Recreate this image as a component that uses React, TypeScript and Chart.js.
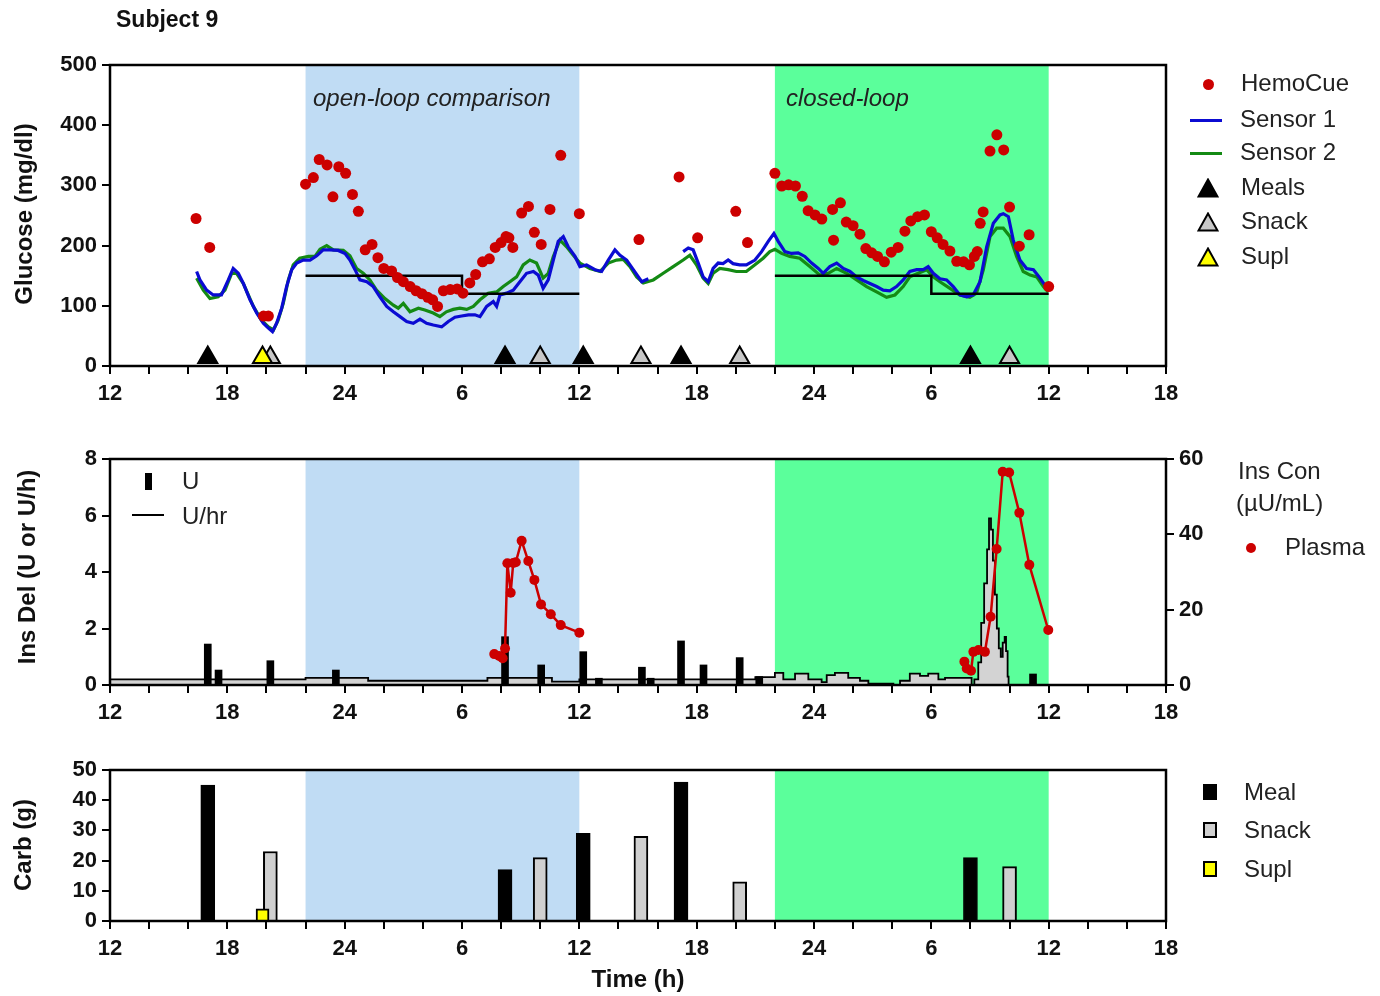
import React, { useEffect, useRef } from 'react';
import { Chart, registerables } from 'chart.js';

Chart.register(...registerables);

// ---------------- DATA ----------------
const xTickStart = 12;
const xTickEnd = 66;
const openLoopBand = [22, 36];
const closedLoopBand = [46, 60];

const hemoTime = [16.4, 17.1, 19.85, 20.1, 22.0, 22.4, 22.7, 23.1, 23.4, 23.7, 24.05, 24.4, 24.7, 25.05, 25.4, 25.7, 26.0, 26.4, 26.7, 27.0, 27.35, 27.65, 27.95, 28.25, 28.5, 28.75, 29.05, 29.4, 29.75, 30.05, 30.4, 30.7, 31.05, 31.4, 31.7, 32.0, 32.25, 32.4, 32.6, 33.05, 33.4, 33.7, 34.05, 34.5, 35.05, 36.0, 39.05, 41.1, 42.05, 44.0, 44.6, 46.0, 46.35, 46.7, 47.05, 47.4, 47.7, 48.05, 48.4, 48.95, 49.0, 49.35, 49.65, 50.0, 50.35, 50.65, 50.95, 51.25, 51.6, 51.95, 52.3, 52.65, 52.95, 53.3, 53.65, 54.0, 54.3, 54.6, 54.95, 55.3, 55.65, 55.95, 56.2, 56.35, 56.5, 56.65, 57.0, 57.35, 57.7, 58.0, 58.5, 59.0, 60.0];
const hemoGlucose = [245, 197, 83, 83, 302, 313, 343, 334, 281, 331, 320, 285, 257, 193, 202, 180, 162, 158, 147, 140, 132, 125, 120, 114, 110, 99, 125, 127, 128, 121, 138, 152, 173, 178, 197, 205, 215, 213, 197, 254, 265, 222, 202, 260, 350, 253, 210, 314, 213, 257, 205, 320, 299, 301, 299, 282, 258, 251, 244, 260, 209, 271, 239, 233, 219, 195, 188, 182, 173, 189, 197, 224, 241, 248, 251, 223, 213, 202, 191, 174, 173, 168, 182, 190, 237, 256, 357, 384, 359, 264, 199, 218, 132];

const sensor1Time = [16.43, 16.6, 16.94, 17.28, 17.7, 18.05, 18.3, 18.56, 18.82, 19.16, 19.5, 19.84, 20.1, 20.31, 20.52, 20.78, 21.03, 21.29, 21.55, 21.88, 22.23, 22.57, 22.9, 23.25, 23.67, 24.02, 24.27, 24.53, 24.78, 25.13, 25.46, 25.8, 26.15, 26.49, 26.83, 27.17, 27.51, 27.85, 28.19, 28.53, 28.96, 29.3, 29.64, 29.98, 30.33, 30.66, 30.92, 31.26, 31.6, 31.77, 31.94, 32.28, 32.62, 32.96, 33.3, 33.65, 33.9, 34.15, 34.41, 34.67, 34.92, 35.18, 35.43, 35.78, 36.03, 36.37, 36.8, 37.14, 37.48, 37.82, 38.08, 38.42, 38.76, 39.19, 39.53, 40.3, 41.31, 41.57, 41.82, 42.08, 42.33, 42.59, 42.84, 43.1, 43.35, 43.61, 43.86, 44.2, 44.54, 44.98, 45.32, 45.66, 45.95, 46.17, 46.51, 46.85, 47.19, 47.53, 47.88, 48.22, 48.47, 48.81, 49.16, 49.5, 49.84, 50.18, 50.52, 50.86, 51.2, 51.54, 51.88, 52.22, 52.56, 52.9, 53.25, 53.59, 53.84, 54.1, 54.44, 54.78, 55.12, 55.46, 55.8, 56.14, 56.49, 56.83, 57.17, 57.51, 57.68, 57.94, 58.19, 58.53, 58.87, 59.22, 59.56, 59.98];
const sensor1Glucose = [157, 143, 126, 118, 118, 143, 162, 154, 137, 110, 88, 71, 63, 57, 71, 96, 132, 160, 171, 176, 176, 183, 193, 193, 192, 187, 176, 160, 143, 140, 132, 115, 99, 90, 82, 74, 71, 78, 71, 68, 65, 74, 81, 83, 85, 85, 82, 99, 107, 99, 118, 121, 126, 140, 154, 157, 151, 129, 143, 176, 207, 215, 198, 182, 165, 168, 160, 157, 176, 193, 184, 176, 160, 140, 145, null, 190, 196, 193, 171, 148, 140, 162, 171, 170, 176, 170, 168, 168, 176, 190, 207, 220, 207, 190, 187, 188, 182, 171, 162, 154, 165, 171, 162, 157, 148, 142, 137, 132, 126, 125, 132, 143, 157, 160, 160, 165, 154, 145, 143, 132, 118, 115, 118, 140, 198, 237, 251, 253, 248, 209, 176, 162, 160, 146, 126];

const sensor2Time = [16.43, 16.77, 17.11, 17.53, 17.88, 18.22, 18.47, 18.82, 19.33, 19.75, 20.1, 20.36, 20.6, 20.86, 21.12, 21.37, 21.7, 22.15, 22.48, 22.74, 23.08, 23.42, 23.93, 24.27, 24.61, 24.95, 25.29, 25.63, 26.06, 26.49, 26.74, 27.0, 27.34, 27.77, 28.1, 28.53, 28.87, 29.2, 29.55, 29.89, 30.24, 30.58, 30.92, 31.34, 31.77, 32.11, 32.45, 32.79, 33.13, 33.47, 33.81, 34.15, 34.41, 34.67, 35.01, 35.35, 35.69, 36.03, 36.54, 37.06, 37.48, 37.9, 38.25, 38.59, 38.93, 39.27, 39.78, 40.29, 40.8, 41.31, 41.65, 41.99, 42.33, 42.59, 42.84, 43.18, 43.61, 44.03, 44.54, 44.98, 45.4, 45.74, 46.0, 46.34, 46.76, 47.27, 47.8, 48.3, 48.73, 49.16, 49.67, 50.18, 50.69, 51.2, 51.71, 52.14, 52.56, 52.9, 53.33, 53.76, 54.1, 54.44, 54.95, 55.46, 55.97, 56.31, 56.66, 57.0, 57.34, 57.68, 58.02, 58.36, 58.7, 59.05, 59.39, 59.73, 59.98];
const sensor2Glucose = [146, 126, 112, 115, 126, 154, 154, 137, 99, 76, 65, 60, 76, 104, 143, 168, 179, 182, 182, 194, 200, 193, 192, 183, 162, 154, 143, 126, 112, 101, 96, 104, 90, 96, 93, 88, 82, 90, 94, 96, 94, 99, 110, 121, 123, 132, 140, 148, 168, 176, 171, 146, 154, 182, 209, 198, 184, 171, 162, 157, 171, 176, 177, 165, 148, 138, 143, 154, 165, 176, 184, 168, 146, 137, 154, 162, 160, 157, 157, 168, 179, 190, 194, 187, 182, 179, 165, 151, 154, 162, 154, 143, 132, 123, 114, 118, 132, 148, 154, 160, 148, 140, 129, 118, 114, 121, 160, 215, 229, 229, 215, 182, 157, 151, 148, 132, 123];

const targetTime = [22, 30, 30, 36, 41, 46, 54, 54, 60];
const targetGlucose = [150, 150, 120, 120, null, 150, 150, 120, 120];

const markerLevel = 14;
const mealTime = [17.0, 32.2, 36.2, 41.2, 56.0];
const mealCarb = [45, 17, 29, 46, 21];
const snackTime = [20.2, 34.0, 39.15, 44.2, 58.0];
const snackCarb = [23, 21, 28, 13, 18];
const suplTime = [19.8];
const suplCarb = [4];

const bolusTime = [17.0, 17.55, 20.2, 23.55, 32.2, 34.05, 36.2, 37.0, 39.2, 39.65, 41.2, 42.35, 44.2, 45.2, 59.2];
const bolusUnits = [1.45, 0.53, 0.86, 0.53, 1.71, 0.71, 1.18, 0.24, 0.63, 0.24, 1.56, 0.71, 0.97, 0.3, 0.39];

const basalTime = [12, 22, 25.2, 31.3, 34.6, 36.0, 45.0, 46.0, 46.43, 47.03, 47.71, 48.39, 48.65, 49.07, 49.75, 50.35, 50.78, 52.06, 52.4, 52.9, 53.42, 53.84, 54.36, 54.7, 55.38, 56.06, 56.2, 56.4, 56.55, 56.7, 56.85, 56.95, 57.05, 57.15, 57.25, 57.35, 57.45, 57.55, 57.65, 57.75, 57.82, 57.9, 57.95, 60.0];
const basalRate = [0.2, 0.25, 0.15, 0.25, 0.12, 0.2, 0.28, 0.43, 0.2, 0.4, 0.2, 0.1, 0.35, 0.43, 0.25, 0.15, 0.05, 0.0, 0.15, 0.4, 0.32, 0.4, 0.2, 0.25, 0.25, 0.0, 0.2, 0.8, 2.2, 3.6, 4.8, 5.9, 5.5, 4.4, 3.2, 2.0, 1.3, 1.0, 1.5, 1.7, 1.2, 0.3, 0.0, 0.0];

const plasmaTime = [31.65, 31.9, 32.08, 32.2, 32.32, 32.49, 32.62, 32.75, 33.05, 33.39, 33.7, 34.04, 34.54, 35.05, 36.0, 45.0, 55.69, 55.81, 56.03, 56.15, 56.41, 56.74, 57.03, 57.34, 57.65, 57.98, 58.5, 59.01, 59.98];
const plasmaInsulin = [8.2, 7.7, 7.1, 9.7, 32.3, 24.5, 32.4, 32.6, 38.3, 32.9, 27.9, 21.4, 18.8, 15.9, 13.9, null, 6.2, 4.4, 3.8, 8.8, 9.3, 8.8, 18.1, 36.1, 56.6, 56.4, 45.7, 31.9, 14.6];

// ---------------- STYLE ----------------
const FONT = '"Liberation Sans", Arial, Helvetica, sans-serif';
const TICK_FONT = { family: FONT, size: 22, weight: 'bold' as const };
const BLUE_BAND = '#c0dcf4';
const GREEN_BAND = '#5bff9b';
const RED = '#cc0000';

const pts = (xs: number[], ys: (number | null)[]) => xs.map((x, i) => ({ x, y: ys[i] }));
const at = (xs: number[], y: number) => xs.map((x) => ({ x, y }));

const xLabel = (v: number) => {
  const r = Math.round(v);
  if ((r - 12) % 6 !== 0) return '';
  const h = r % 24;
  return String(h === 0 ? 24 : h);
};

const tickGrid = { drawOnChartArea: false, drawTicks: true, tickLength: 8, color: '#000', lineWidth: 2 };

const xScale = (height: number) => ({
  type: 'linear' as const,
  min: xTickStart,
  max: xTickEnd,
  offset: false,
  afterFit: (s: any) => { s.height = height; },
  grid: { ...tickGrid, offset: false },
  border: { display: false },
  ticks: { stepSize: 2, autoSkip: false, maxRotation: 0, minRotation: 0, padding: 7, color: '#111', font: TICK_FONT, callback: (v: any) => xLabel(Number(v)) },
});

const yScale = (max: number, step: number, width: number, position: 'left' | 'right' = 'left') => ({
  type: 'linear' as const,
  position,
  min: 0,
  max,
  afterFit: (s: any) => { s.width = width; },
  grid: tickGrid,
  border: { display: false },
  ticks: { stepSize: step, padding: 5, color: '#111', font: TICK_FONT },
});

const bandPlugin = {
  id: 'bands',
  beforeDraw(chart: any) {
    const { ctx, chartArea: a, scales } = chart;
    const x = scales.x;
    [[openLoopBand, BLUE_BAND], [closedLoopBand, GREEN_BAND]].forEach(([b, c]: any) => {
      const x0 = x.getPixelForValue(b[0]);
      const x1 = x.getPixelForValue(b[1]);
      ctx.save();
      ctx.fillStyle = c;
      ctx.fillRect(x0, a.top, x1 - x0, a.bottom - a.top);
      ctx.restore();
    });
  },
};

const framePlugin = {
  id: 'frame',
  afterDraw(chart: any) {
    const { ctx, chartArea: a } = chart;
    ctx.save();
    ctx.strokeStyle = '#000';
    ctx.lineWidth = 2.5;
    ctx.strokeRect(a.left, a.top, a.right - a.left, a.bottom - a.top);
    ctx.restore();
  },
};

const baseOptions = (padTop: number, padRight: number) => ({
  responsive: false,
  maintainAspectRatio: false,
  animation: false as const,
  events: [] as any[],
  layout: { padding: { top: padTop, right: padRight, left: 0, bottom: 0 } },
  plugins: { legend: { display: false }, tooltip: { enabled: false } },
});

function glucoseConfig(): any {
  return {
    type: 'scatter',
    data: {
      datasets: [
        { label: 'HemoCue', data: pts(hemoTime, hemoGlucose), backgroundColor: RED, borderColor: RED, pointRadius: 5.5, pointBorderWidth: 0, order: 0 },
        { label: 'Supl', data: at(suplTime, markerLevel), pointStyle: 'triangle', pointRadius: 11, backgroundColor: '#ffff00', borderColor: '#000', pointBorderWidth: 2, order: 1 },
        { label: 'Snack', data: at(snackTime, markerLevel), pointStyle: 'triangle', pointRadius: 11, backgroundColor: '#c8c8c8', borderColor: '#000', pointBorderWidth: 2, order: 1.5 },
        { label: 'Meals', data: at(mealTime, markerLevel), pointStyle: 'triangle', pointRadius: 11, backgroundColor: '#000', borderColor: '#000', pointBorderWidth: 2, order: 1.2 },
        { label: 'Target', data: pts(targetTime, targetGlucose), showLine: true, spanGaps: false, borderColor: '#000', borderWidth: 2.5, pointRadius: 0, order: 2 },
        { label: 'Sensor 1', data: pts(sensor1Time, sensor1Glucose), showLine: true, spanGaps: false, borderColor: '#0b0bd2', borderWidth: 3.2, pointRadius: 0, order: 3 },
        { label: 'Sensor 2', data: pts(sensor2Time, sensor2Glucose), showLine: true, spanGaps: false, borderColor: '#148a14', borderWidth: 3.2, pointRadius: 0, order: 4 },
      ],
    },
    options: {
      ...baseOptions(65, 214),
      scales: { x: xScale(54), y: yScale(500, 100, 110) },
    },
    plugins: [bandPlugin, framePlugin],
  };
}

function insulinConfig(): any {
  return {
    type: 'scatter',
    data: {
      datasets: [
        { label: 'Plasma', data: pts(plasmaTime, plasmaInsulin), yAxisID: 'y1', showLine: true, spanGaps: false, borderColor: RED, backgroundColor: RED, borderWidth: 2.5, pointRadius: 5, pointBorderWidth: 0, order: 0 },
        { type: 'bar', label: 'U', data: pts(bolusTime, bolusUnits), yAxisID: 'y', backgroundColor: '#000', borderWidth: 0, barThickness: 7, grouped: false, order: 1 },
        { label: 'U/hr', data: pts(basalTime, basalRate), yAxisID: 'y', showLine: true, stepped: true, fill: 'origin', backgroundColor: '#d3d3d3', borderColor: '#000', borderWidth: 1.8, pointRadius: 0, order: 2 },
      ],
    },
    options: {
      ...baseOptions(39, 0),
      scales: { x: xScale(45), y: yScale(8, 2, 110), y1: yScale(60, 20, 214, 'right') },
    },
    plugins: [bandPlugin, framePlugin],
  };
}

function carbConfig(): any {
  return {
    type: 'scatter',
    data: {
      datasets: [
        { type: 'bar', label: 'Supl', data: pts(suplTime, suplCarb), backgroundColor: '#ffff00', borderColor: '#000', borderWidth: 2, barThickness: 13, grouped: false, order: 0 },
        { type: 'bar', label: 'Snack', data: pts(snackTime, snackCarb), backgroundColor: '#d0d0d0', borderColor: '#000', borderWidth: 2, barThickness: 14, grouped: false, order: 1 },
        { type: 'bar', label: 'Meal', data: pts(mealTime, mealCarb), backgroundColor: '#000', borderColor: '#000', borderWidth: 1, barThickness: 14, grouped: false, order: 2 },
      ],
    },
    options: {
      ...baseOptions(40, 214),
      scales: { x: xScale(75), y: yScale(50, 10, 110) },
    },
    plugins: [bandPlugin, framePlugin],
  };
}

function ChartCanvas({ top, height, make }: { top: number; height: number; make: () => any }) {
  const ref = useRef<HTMLCanvasElement>(null);
  useEffect(() => {
    if (!ref.current) return;
    const c = new Chart(ref.current, make());
    return () => c.destroy();
  }, []);
  return <canvas ref={ref} width={1380} height={height} style={{ position: 'absolute', left: 0, top, width: 1380, height, display: 'block' }} />;
}

const txt: React.CSSProperties = { position: 'absolute', fontFamily: FONT, fontSize: 24, color: '#222', whiteSpace: 'nowrap', transform: 'translateY(-50%)', lineHeight: 1 };
const boldTitle: React.CSSProperties = { ...txt, fontWeight: 'bold', color: '#111' };

function Rot({ x, y, children }: { x: number; y: number; children: React.ReactNode }) {
  return (
    <div style={{ position: 'absolute', left: x, top: y, fontFamily: FONT, fontSize: 24, fontWeight: 'bold', color: '#111', whiteSpace: 'nowrap', lineHeight: 1, transform: 'translate(-50%, -50%) rotate(-90deg)' }}>
      {children}
    </div>
  );
}

function Tri({ x, y, fill }: { x: number; y: number; fill: string }) {
  return (
    <svg width={22} height={20} style={{ position: 'absolute', left: x - 11, top: y - 10 }}>
      <polygon points="11,1.5 20.5,18.5 1.5,18.5" fill={fill} stroke="#000" strokeWidth={2} />
    </svg>
  );
}

function Box({ x, y, w, h, fill, border }: { x: number; y: number; w: number; h: number; fill: string; border?: boolean }) {
  return <div style={{ position: 'absolute', left: x - w / 2, top: y - h / 2, width: w, height: h, background: fill, boxSizing: 'border-box', border: border ? '2px solid #000' : 'none' }} />;
}

function Dot({ x, y, d }: { x: number; y: number; d: number }) {
  return <div style={{ position: 'absolute', left: x - d / 2, top: y - d / 2, width: d, height: d, borderRadius: '50%', background: RED }} />;
}

export default function App() {
  return (
    <div style={{ position: 'absolute', left: 0, top: 0, width: 1380, height: 996, background: '#fff', overflow: 'hidden' }}>
      <ChartCanvas top={0} height={420} make={glucoseConfig} />
      <ChartCanvas top={420} height={310} make={insulinConfig} />
      <ChartCanvas top={730} height={266} make={carbConfig} />

      <div style={{ ...boldTitle, left: 116, top: 19, fontSize: 23 }}>Subject 9</div>

      <div style={{ ...txt, left: 313, top: 98, fontStyle: 'italic' }}>open-loop comparison</div>
      <div style={{ ...txt, left: 786, top: 98, fontStyle: 'italic' }}>closed-loop</div>

      <Rot x={24} y={214}>Glucose (mg/dl)</Rot>
      <Rot x={27} y={567}>Ins Del (U or U/h)</Rot>
      <Rot x={23} y={845}>Carb (g)</Rot>
      <div style={{ ...boldTitle, left: 638, top: 979, transform: 'translate(-50%, -50%)' }}>Time (h)</div>

      {/* glucose legend */}
      <Dot x={1208} y={84} d={11} />
      <div style={{ ...txt, left: 1241, top: 83 }}>HemoCue</div>
      <Box x={1206} y={120} w={32} h={3} fill="#0b0bd2" />
      <div style={{ ...txt, left: 1240, top: 119 }}>Sensor 1</div>
      <Box x={1206} y={153} w={32} h={3} fill="#148a14" />
      <div style={{ ...txt, left: 1240, top: 152 }}>Sensor 2</div>
      <Tri x={1208} y={188} fill="#000" />
      <div style={{ ...txt, left: 1241, top: 187 }}>Meals</div>
      <Tri x={1208} y={222} fill="#c8c8c8" />
      <div style={{ ...txt, left: 1241, top: 221 }}>Snack</div>
      <Tri x={1208} y={257} fill="#ffff00" />
      <div style={{ ...txt, left: 1241, top: 256 }}>Supl</div>

      {/* insulin legend */}
      <Box x={148} y={481} w={7} h={17} fill="#000" />
      <div style={{ ...txt, left: 182, top: 481 }}>U</div>
      <Box x={148} y={515} w={32} h={2.5} fill="#000" />
      <div style={{ ...txt, left: 182, top: 516 }}>U/hr</div>
      <div style={{ ...txt, left: 1238, top: 471 }}>Ins Con</div>
      <div style={{ ...txt, left: 1236, top: 503 }}>(µU/mL)</div>
      <Dot x={1251} y={548} d={10} />
      <div style={{ ...txt, left: 1285, top: 547 }}>Plasma</div>

      {/* carb legend */}
      <Box x={1210} y={792} w={14} h={16} fill="#000" />
      <div style={{ ...txt, left: 1244, top: 792 }}>Meal</div>
      <Box x={1210} y={830} w={14} h={16} fill="#d0d0d0" border />
      <div style={{ ...txt, left: 1244, top: 830 }}>Snack</div>
      <Box x={1210} y={869} w={14} h={16} fill="#ffff00" border />
      <div style={{ ...txt, left: 1244, top: 869 }}>Supl</div>
    </div>
  );
}
